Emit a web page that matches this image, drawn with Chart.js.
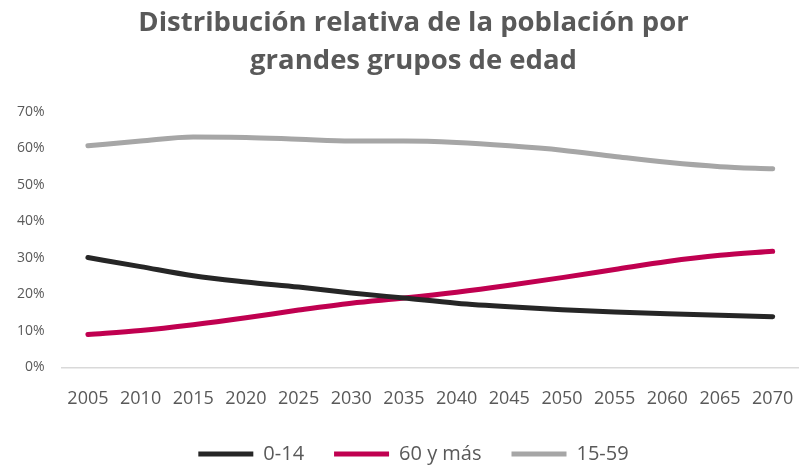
<!DOCTYPE html>
<html>
<head>
<meta charset="utf-8">
<script src="https://cdn.jsdelivr.net/npm/chart.js@4"></script>
<style>
  html, body { margin: 0; padding: 0; background: #fff; }
  #wrap { width: 799px; height: 465px; position: relative; }
</style>
</head>
<body>
<div id="wrap"><canvas id="grafica"></canvas></div>
<script>
const anios = ['2005', '2010', '2015', '2020', '2025', '2030', '2035', '2040', '2045', '2050', '2055', '2060', '2065', '2070'];
const grupo0a14 = [30.1, 27.6, 25.1, 23.4, 22.0, 20.4, 19.0, 17.6, 16.6, 15.8, 15.2, 14.7, 14.3, 13.9];
const grupo60ymas = [9.0, 10.1, 11.7, 13.6, 15.7, 17.6, 19.0, 20.6, 22.5, 24.6, 26.8, 29.0, 30.7, 31.8];
const grupo15a59 = [60.7, 62.0, 63.1, 63.0, 62.5, 62.0, 62.0, 61.6, 60.7, 59.5, 57.8, 56.2, 55.0, 54.4];

const fuente = "'Open Sans', 'Noto Sans', sans-serif";

function serie(etiqueta, valores, color) {
    return {
        label: etiqueta,
        data: valores,
        borderColor: color,
        backgroundColor: color,
        borderWidth: 5,
        borderCapStyle: 'round',
        pointRadius: 0,
        pointStyle: 'line',
        tension: 0.4,
        cubicInterpolationMode: 'monotone'
    };
}

// titulo y leyenda van algo corridos a la derecha, como en el original
const desplazar = {
    id: 'desplazar',
    afterLayout(chart) {
        [chart.titleBlock, chart.legend].forEach(caja => {
            if (caja) {
                caja.left += 14;
                caja.right += 14;
            }
        });
    }
};

new Chart(document.getElementById('grafica'), {
    type: 'line',
    data: {
        labels: anios,
        datasets: [
            serie('0-14', grupo0a14, '#262626'),
            serie('60 y más', grupo60ymas, '#c00050'),
            serie('15-59', grupo15a59, '#a6a6a6')
        ]
    },
    plugins: [desplazar],
    options: {
        responsive: true,
        maintainAspectRatio: false,
        animation: false,
        layout: { autoPadding: false, padding: { left: 0, right: 0, top: 4, bottom: -9 } },
        plugins: {
            title: {
                display: true,
                text: ['Distribución relativa de la población por', 'grandes grupos de edad'],
                color: '#595959',
                font: { family: fuente, size: 27.5, weight: 'bold', lineHeight: 1.38 },
                padding: { top: 0, bottom: 32 }
            },
            legend: {
                position: 'bottom',
                labels: {
                    color: '#595959',
                    font: { family: fuente, size: 20 },
                    usePointStyle: true,
                    pointStyle: 'line',
                    pointStyleWidth: 55,
                    padding: 30
                }
            },
            tooltip: { enabled: false }
        },
        scales: {
            x: {
                offset: true,
                grid: { display: false, drawTicks: false },
                border: { display: true, color: '#d9d9d9', width: 1.5 },
                ticks: { color: '#595959', font: { family: fuente, size: 18 }, maxRotation: 0, padding: 21 },
                afterFit: eje => {
                    // el eje ocupa menos alto y no reserva margen a la derecha
                    eje.height -= 17;
                    eje.paddingRight = 0;
                }
            },
            y: {
                min: 0,
                max: 70,
                grid: { display: false, drawTicks: false },
                border: { display: false },
                ticks: {
                    stepSize: 10,
                    color: '#595959',
                    font: { family: fuente, size: 14 },
                    padding: 17,
                    callback: v => v + '%'
                }
            }
        }
    }
});
</script>
</body>
</html>
